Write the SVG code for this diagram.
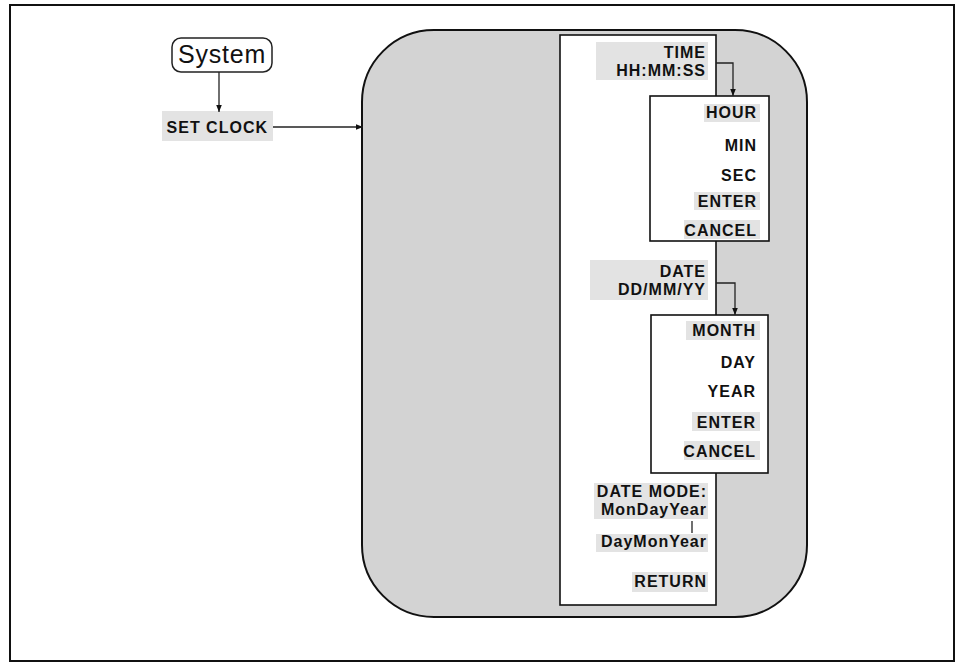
<svg xmlns="http://www.w3.org/2000/svg" width="958" height="665" viewBox="0 0 958 665">
<style>
.lbl{font-family:"Liberation Sans",Arial,sans-serif;font-weight:bold;font-size:16px;letter-spacing:1px;fill:#111;text-anchor:end}
.hl{fill:#e3e3e3}
.box{fill:#fff;stroke:#111;stroke-width:1.6}
.con{fill:none;stroke:#222;stroke-width:1.3}
</style>
<defs>
<marker id="ah" viewBox="0 0 10 10" refX="10" refY="5" markerWidth="7" markerHeight="7" orient="auto" markerUnits="userSpaceOnUse">
<path d="M0,1 L10,5 L0,9 z" fill="#111"/>
</marker>
</defs>
<rect x="10" y="5" width="944" height="656" fill="#fff" stroke="#111" stroke-width="2"/>
<g id="menu-area">
<rect x="362" y="30" width="445" height="587" rx="72" ry="72" fill="#d3d3d3" stroke="#111" stroke-width="2"/>
</g>
<g id="system">
<rect x="172" y="38" width="100" height="34" rx="9" ry="9" fill="#fff" stroke="#222" stroke-width="1.5"/>
<text x="222" y="63" style="font-family:'Liberation Sans',Arial,sans-serif;font-size:25px;letter-spacing:0.8px;fill:#111;text-anchor:middle">System</text>
</g>
<g id="set-clock">
<rect x="162" y="111" width="111" height="30" class="hl" fill="#d6d6d6"/>
<text x="268" y="133" class="lbl">SET CLOCK</text>
</g>
<g id="main-panel">
<rect x="560" y="35" width="156" height="570" class="box"/>
<rect x="596" y="42" width="112" height="38" class="hl"/>
<text x="706" y="58" class="lbl">TIME</text>
<text x="706" y="76" class="lbl">HH:MM:SS</text>
<rect x="590" y="260" width="118" height="40" class="hl"/>
<text x="706" y="277" class="lbl">DATE</text>
<text x="706" y="295" class="lbl">DD/MM/YY</text>
<rect x="594" y="483" width="114" height="36" class="hl"/>
<text x="707" y="497" class="lbl">DATE MODE:</text>
<text x="707" y="515" class="lbl">MonDayYear</text>
<rect x="596" y="534" width="112" height="18" class="hl"/>
<text x="707" y="547" class="lbl">DayMonYear</text>
<rect x="632" y="572" width="76" height="20" class="hl"/>
<text x="707" y="587" class="lbl">RETURN</text>
</g>
<g id="time-menu">
<rect x="650" y="96" width="119" height="145" class="box"/>
<rect x="704" y="104" width="56" height="18" class="hl"/>
<text x="757" y="118" class="lbl">HOUR</text>
<text x="757" y="151" class="lbl">MIN</text>
<text x="757" y="181" class="lbl">SEC</text>
<rect x="694" y="192" width="66" height="18" class="hl"/>
<text x="757" y="207" class="lbl">ENTER</text>
<rect x="684" y="220" width="76" height="19" class="hl"/>
<text x="757" y="236" class="lbl">CANCEL</text>
</g>
<g id="date-menu">
<rect x="651" y="315" width="117" height="158" class="box"/>
<rect x="686" y="321" width="74" height="19" class="hl"/>
<text x="756" y="336" class="lbl">MONTH</text>
<text x="756" y="368" class="lbl">DAY</text>
<text x="756" y="397" class="lbl">YEAR</text>
<rect x="692" y="412" width="68" height="19" class="hl"/>
<text x="756" y="428" class="lbl">ENTER</text>
<rect x="684" y="441" width="76" height="19" class="hl"/>
<text x="756" y="457" class="lbl">CANCEL</text>
</g>
<g id="connectors">
<line x1="219" y1="72" x2="219" y2="112" class="con" marker-end="url(#ah)"/>
<line x1="273" y1="127" x2="363" y2="127" class="con" marker-end="url(#ah)"/>
<polyline points="716,63 733,63 733,96" class="con" marker-end="url(#ah)"/>
<polyline points="716,283 735,283 735,315" class="con" marker-end="url(#ah)"/>
<line x1="692" y1="521" x2="692" y2="533" class="con"/>
</g>
</svg>
